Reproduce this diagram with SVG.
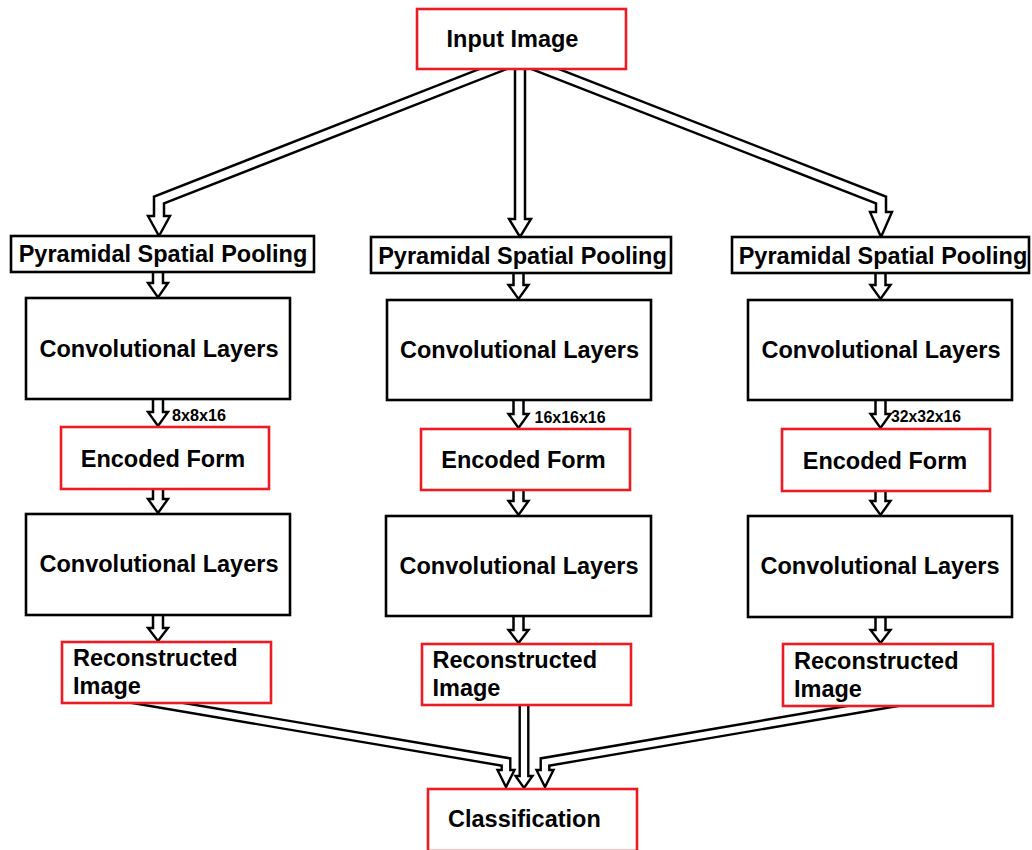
<svg xmlns="http://www.w3.org/2000/svg" width="1032" height="850" viewBox="0 0 1032 850">
  <style>
    .box { fill: #ffffff; stroke: #000000; stroke-width: 2.6; }
    .red { fill: #ffffff; stroke: #ed1c24; stroke-width: 2.6; }
    .lbl { font-family: "Liberation Sans", Arial, sans-serif; font-weight: bold; font-size: 23.5px; fill: #000000; }
    .mid { text-anchor: middle; }
    .dim { font-family: "Liberation Sans", Arial, sans-serif; font-weight: bold; font-size: 16px; fill: #000000; }
    .outer { fill: none; stroke: #000000; stroke-width: 12.5; stroke-linejoin: miter; stroke-miterlimit: 10; }
    .inner { fill: none; stroke: #ffffff; stroke-width: 7.5; stroke-linejoin: miter; stroke-miterlimit: 10; }
    .outer-s { fill: none; stroke: #000000; stroke-width: 11; stroke-linejoin: miter; stroke-miterlimit: 10; }
    .inner-s { fill: none; stroke: #ffffff; stroke-width: 6.2; stroke-linejoin: miter; stroke-miterlimit: 10; }
    .head { fill: #ffffff; stroke: #000000; stroke-width: 2.4; stroke-linejoin: miter; }
  </style>

  <rect width="1032" height="850" fill="#ffffff"/>

  <!-- hollow double-line arrows: black outline stroke, head, then white core -->
  <g id="connectors">
    <!-- fan-out from the input -->
    <polyline class="outer" points="516,60 159,200 159,218"/>
    <polyline class="outer" points="520,60 520,220"/>
    <polyline class="outer" points="522,60 881,200 881,214"/>
    <polygon class="head" points="148,216 170,216 159,236"/>
    <polygon class="head" points="509,219 531,219 520,237"/>
    <polygon class="head" points="870,212 892,212 881,237"/>
    <polyline class="inner" points="516,60 159,200 159,218"/>
    <polyline class="inner" points="520,60 520,221"/>
    <polyline class="inner" points="522,60 881,200 881,214"/>

    <!-- left column -->
    <g>
      <polyline class="outer" points="158,268 158,284"/>
      <polyline class="outer" points="158,395 158,413"/>
      <polyline class="outer" points="158,485 158,500"/>
      <polyline class="outer" points="158,611 158,629"/>
      <polygon class="head" points="148,283 168,283 158,297.5"/>
      <polygon class="head" points="148,412 168,412 158,426"/>
      <polygon class="head" points="148,499 168,499 158,513"/>
      <polygon class="head" points="148,628 168,628 158,641"/>
      <polyline class="inner" points="158,268 158,285.5"/>
      <polyline class="inner" points="158,395 158,414.5"/>
      <polyline class="inner" points="158,485 158,501.5"/>
      <polyline class="inner" points="158,611 158,630.5"/>
    </g>
    <!-- middle column -->
    <g>
      <polyline class="outer" points="518.5,269 518.5,286"/>
      <polyline class="outer" points="518.5,396 518.5,415"/>
      <polyline class="outer" points="518.5,486 518.5,502"/>
      <polyline class="outer" points="518.5,612 518.5,631"/>
      <polygon class="head" points="508.5,285 528.5,285 518.5,299"/>
      <polygon class="head" points="508.5,414 528.5,414 518.5,428"/>
      <polygon class="head" points="508.5,501 528.5,501 518.5,515"/>
      <polygon class="head" points="508.5,630 528.5,630 518.5,643"/>
      <polyline class="inner" points="518.5,269 518.5,287.5"/>
      <polyline class="inner" points="518.5,396 518.5,416.5"/>
      <polyline class="inner" points="518.5,486 518.5,503.5"/>
      <polyline class="inner" points="518.5,612 518.5,632.5"/>
    </g>
    <!-- right column -->
    <g>
      <polyline class="outer" points="880.5,269 880.5,286"/>
      <polyline class="outer" points="880.5,396 880.5,415"/>
      <polyline class="outer" points="880.5,487 880.5,502"/>
      <polyline class="outer" points="880.5,613 880.5,631"/>
      <polygon class="head" points="870.5,285 890.5,285 880.5,299"/>
      <polygon class="head" points="870.5,414 890.5,414 880.5,428"/>
      <polygon class="head" points="870.5,501 890.5,501 880.5,515"/>
      <polygon class="head" points="870.5,630 890.5,630 880.5,643"/>
      <polyline class="inner" points="880.5,269 880.5,287.5"/>
      <polyline class="inner" points="880.5,396 880.5,416.5"/>
      <polyline class="inner" points="880.5,487 880.5,503.5"/>
      <polyline class="inner" points="880.5,613 880.5,632.5"/>
    </g>

    <!-- fan-in to classification -->
    <polyline class="outer-s" points="117,696 506,762 506,771"/>
    <polyline class="outer-s" points="524,700 524,777"/>
    <polyline class="outer-s" points="919,698 545,762 545,771"/>
    <polygon class="head" points="497.5,770 514.5,770 506,787"/>
    <polygon class="head" points="515.5,776 532.5,776 524,788"/>
    <polygon class="head" points="536.5,770 553.5,770 545,787"/>
    <polyline class="inner-s" points="117,696 506,762 506,772"/>
    <polyline class="inner-s" points="524,700 524,778"/>
    <polyline class="inner-s" points="919,698 545,762 545,772"/>
  </g>

  <!-- feature map size labels -->
  <g id="sizes">
    <text class="dim" x="172" y="420.5" textLength="54" lengthAdjust="spacingAndGlyphs">8x8x16</text>
    <text class="dim" x="534.5" y="423" textLength="71" lengthAdjust="spacingAndGlyphs">16x16x16</text>
    <text class="dim" x="891" y="422" textLength="70" lengthAdjust="spacingAndGlyphs">32x32x16</text>
  </g>

  <g id="input-image">
    <rect class="red" x="417" y="9" width="209" height="60"/>
    <text class="lbl mid" x="512.5" y="47">Input Image</text>
  </g>

  <!-- left branch -->
  <g id="pool-left">
    <rect class="box" x="11" y="236" width="303" height="36"/>
    <text class="lbl mid" x="163" y="262">Pyramidal Spatial Pooling</text>
  </g>
  <g id="conv-a-left">
    <rect class="box" x="26" y="298" width="264" height="101"/>
    <text class="lbl mid" x="159" y="356.5">Convolutional Layers</text>
  </g>
  <g id="encoded-left">
    <rect class="red" x="61" y="427" width="208" height="62"/>
    <text class="lbl mid" x="163" y="466.5">Encoded Form</text>
  </g>
  <g id="conv-b-left">
    <rect class="box" x="26" y="514" width="264" height="101"/>
    <text class="lbl mid" x="159" y="572">Convolutional Layers</text>
  </g>
  <g id="recon-left">
    <rect class="red" x="62" y="642" width="209" height="61"/>
    <text class="lbl" x="73" y="666">Reconstructed</text>
    <text class="lbl" x="73" y="694">Image</text>
  </g>

  <!-- middle branch -->
  <g id="pool-mid">
    <rect class="box" x="371" y="237" width="300" height="36"/>
    <text class="lbl mid" x="522.5" y="263.5">Pyramidal Spatial Pooling</text>
  </g>
  <g id="conv-a-mid">
    <rect class="box" x="387" y="300" width="264" height="100"/>
    <text class="lbl mid" x="519.5" y="357.5">Convolutional Layers</text>
  </g>
  <g id="encoded-mid">
    <rect class="red" x="421" y="429" width="209" height="61"/>
    <text class="lbl mid" x="523.5" y="468">Encoded Form</text>
  </g>
  <g id="conv-b-mid">
    <rect class="box" x="386" y="516" width="265" height="100"/>
    <text class="lbl mid" x="519" y="573.5">Convolutional Layers</text>
  </g>
  <g id="recon-mid">
    <rect class="red" x="422" y="644" width="209" height="61"/>
    <text class="lbl" x="432.5" y="668">Reconstructed</text>
    <text class="lbl" x="432.5" y="696">Image</text>
  </g>

  <!-- right branch -->
  <g id="pool-right">
    <rect class="box" x="732" y="237" width="297" height="36"/>
    <text class="lbl mid" x="883" y="264">Pyramidal Spatial Pooling</text>
  </g>
  <g id="conv-a-right">
    <rect class="box" x="748" y="300" width="264" height="100"/>
    <text class="lbl mid" x="881" y="358">Convolutional Layers</text>
  </g>
  <g id="encoded-right">
    <rect class="red" x="782" y="429" width="208" height="62"/>
    <text class="lbl mid" x="885" y="468.5">Encoded Form</text>
  </g>
  <g id="conv-b-right">
    <rect class="box" x="748" y="516" width="264" height="101"/>
    <text class="lbl mid" x="880" y="574">Convolutional Layers</text>
  </g>
  <g id="recon-right">
    <rect class="red" x="783" y="644" width="210" height="62"/>
    <text class="lbl" x="794" y="669">Reconstructed</text>
    <text class="lbl" x="794" y="697">Image</text>
  </g>

  <g id="classification">
    <rect class="red" x="428" y="789" width="209" height="62"/>
    <text class="lbl" x="448" y="827">Classification</text>
  </g>
</svg>
